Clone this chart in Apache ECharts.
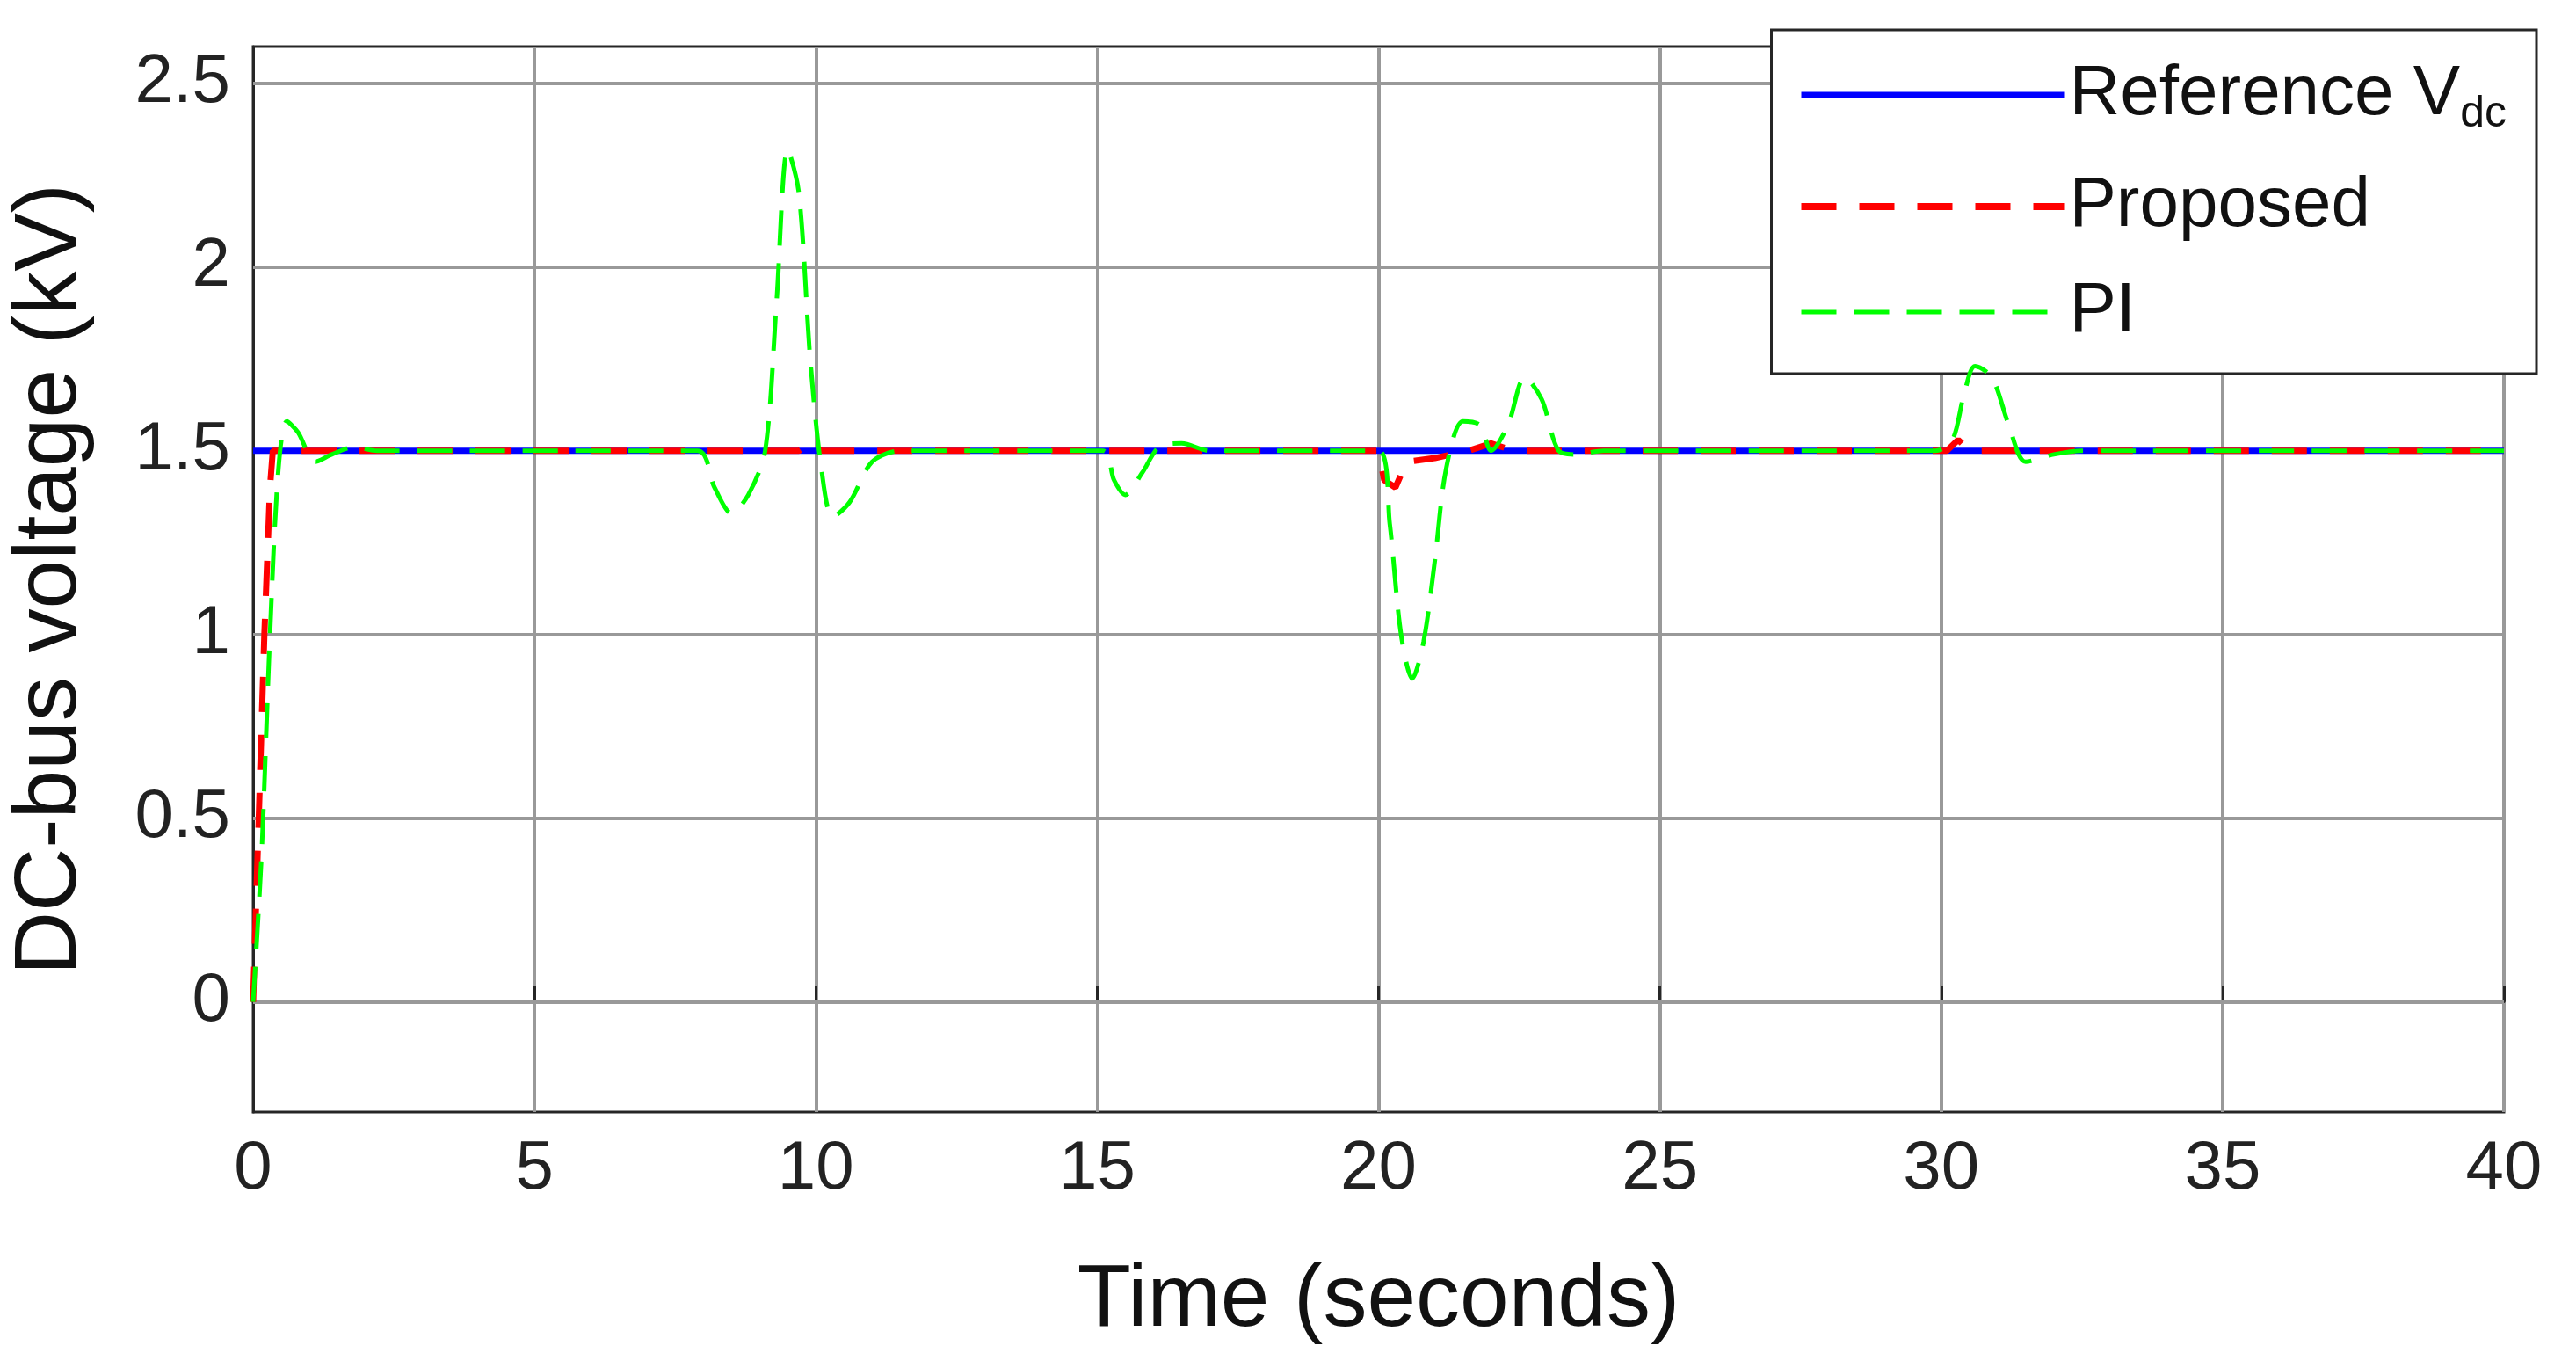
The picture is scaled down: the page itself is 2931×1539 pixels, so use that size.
<!DOCTYPE html>
<html>
<head>
<meta charset="utf-8">
<script src="https://cdn.jsdelivr.net/npm/echarts@6/dist/echarts.min.js"></script>
<style>html,body{margin:0;background:#fff}#main{width:2931px;height:1539px}</style>
</head>
<body>
<div id="main"></div>
<script>
// time axis / tick labels
var yTicks = [0, 0.5, 1, 1.5, 2, 2.5];
var refT = [0, 40];
var refV = [1.5, 1.5];
var propT = [0, 0.1, 0.2, 0.3, 0.35, 0.5, 9.7, 9.9, 10.1, 20.0, 20.1, 20.3, 20.5, 21, 21.6, 22, 22.4, 30.1, 30.3, 30.5, 31, 40];
var propV = [0, 0.5, 1.0, 1.4, 1.5, 1.5, 1.5, 1.52, 1.5, 1.5, 1.42, 1.4, 1.47, 1.48, 1.5, 1.52, 1.5, 1.5, 1.53, 1.5, 1.5, 1.5];
var piT = [0, 0.15, 0.3, 0.45, 0.6, 0.8, 1.1, 1.4, 1.8, 2.2, 7.9, 8.2, 8.5, 8.8, 9.1, 9.3, 9.5, 9.7, 9.9, 10.1, 10.3, 10.6, 11, 11.5, 12, 15.1, 15.3, 15.5, 15.8, 16.1, 16.5, 17, 20.0, 20.2, 20.4, 20.6, 20.8, 21.0, 21.2, 21.5, 21.8, 22.0, 22.3, 22.6, 22.9, 23.2, 23.5, 24, 29.9, 30.2, 30.4, 30.6, 30.9, 31.2, 31.5, 32, 32.5, 40];
var piV = [0, 0.4, 1.0, 1.45, 1.58, 1.55, 1.47, 1.49, 1.51, 1.5, 1.5, 1.4, 1.33, 1.38, 1.5, 1.9, 2.32, 2.2, 1.75, 1.45, 1.32, 1.36, 1.47, 1.5, 1.5, 1.5, 1.42, 1.38, 1.44, 1.51, 1.52, 1.5, 1.5, 1.3, 1.0, 0.88, 0.98, 1.2, 1.45, 1.58, 1.57, 1.5, 1.57, 1.7, 1.64, 1.5, 1.49, 1.5, 1.5, 1.53, 1.65, 1.73, 1.7, 1.57, 1.47, 1.49, 1.5, 1.5];

function pairs(t, v) { return t.map(function (x, i) { return [x, v[i]]; }); }

var chart = echarts.init(document.getElementById('main'));
var font = 'Liberation Sans';
chart.setOption({
    animation: false,
    grid: { left: 272, right: 82, top: 53, bottom: 274, show: true, borderColor: '#262626', borderWidth: 3 },
    legend: {
        orient: 'vertical', right: 45, top: 34,
        padding: [34, 34, 30, 30],
        backgroundColor: '#fff', borderColor: '#262626', borderWidth: 3,
        itemWidth: 300, itemHeight: 12, itemGap: 40,
        itemStyle: { opacity: 0 },
        textStyle: {
            fontFamily: font, fontSize: 80, color: '#111',
            rich: { sub: { fontSize: 50, verticalAlign: 'bottom', padding: [44, 0, 0, 0], fontFamily: font } }
        },
        formatter: function (n) { return n === 'Reference' ? 'Reference V{sub|dc}' : n; },
        data: [
            { name: 'Reference', lineStyle: { width: 7 } },
            { name: 'Proposed', lineStyle: { width: 8 } },
            { name: 'PI', lineStyle: { width: 5 } }
        ]
    },
    xAxis: {
        type: 'value', min: 0, max: 40, interval: 5,
        name: 'Time (seconds)', nameLocation: 'middle', nameGap: 165,
        nameTextStyle: { fontFamily: font, fontSize: 100, color: '#111' },
        axisLine: { lineStyle: { color: '#262626', width: 3 } },
        axisTick: { inside: true, length: 18, lineStyle: { color: '#262626', width: 3 } },
        axisLabel: { fontFamily: font, fontSize: 78, color: '#222', margin: 26 },
        splitLine: { show: true, lineStyle: { color: '#999', width: 4 } }
    },
    yAxis: {
        type: 'value', min: -0.3, max: 2.6,
        name: 'DC-bus voltage (kV)', nameLocation: 'middle', nameGap: 180,
        nameTextStyle: { fontFamily: font, fontSize: 100, color: '#111' },
        axisLine: { lineStyle: { color: '#262626', width: 3 } },
        axisTick: { inside: true, length: 18, customValues: yTicks, lineStyle: { color: '#262626', width: 3 } },
        axisLabel: { fontFamily: font, fontSize: 78, color: '#222', margin: 26, customValues: yTicks },
        splitLine: { show: false }
    },
    series: [
        {
            name: 'Reference', type: 'line', data: pairs(refT, refV), symbol: 'none',
            lineStyle: { color: '#0000ff', width: 7 }, itemStyle: { color: '#0000ff' }, z: 2,
            markLine: {
                silent: true, symbol: 'none', label: { show: false }, z: 1,
                lineStyle: { color: '#999', width: 4, type: 'solid' },
                data: yTicks.map(function (v) { return { yAxis: v }; })
            }
        },
        {
            name: 'Proposed', type: 'line', data: pairs(propT, propV), symbol: 'none',
            lineStyle: { color: '#ff0000', width: 7, type: [40, 26] }, itemStyle: { color: '#ff0000' }, z: 3
        },
        {
            name: 'PI', type: 'line', data: pairs(piT, piV), symbol: 'none', smooth: 0.3,
            lineStyle: { color: '#00ff00', width: 5, type: [40, 20] }, itemStyle: { color: '#00ff00' }, z: 4
        }
    ]
});
</script>
</body>
</html>
